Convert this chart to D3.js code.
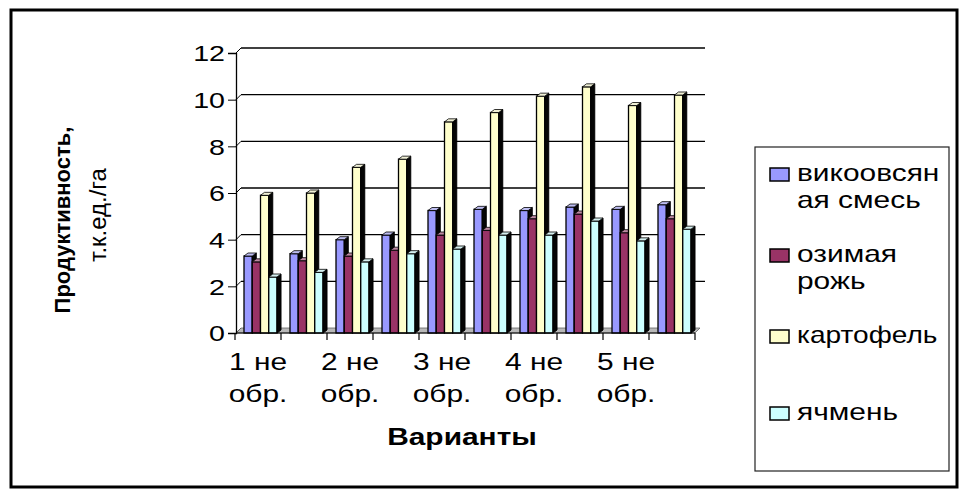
<!doctype html>
<html>
  <head>
    <meta charset="utf-8">
    <title>Продуктивность</title>
    <script src="https://d3js.org/d3.v7.min.js"></script>
    <style type="text/css">
      body { margin: 0; background-color: #ffffff; }
      text { font-family: "Liberation Sans", Arial, sans-serif; fill: #000; }
    </style>
  </head>
  <body>
    <script>
      // data
      var categories = ["1 не обр.", "1 обр.", "2 не обр.", "2 обр.", "3 не обр.",
                        "3 обр.", "4 не обр.", "4 обр.", "5 не обр.", "5 обр."];
      var seriesNames = ["викоовсяная смесь", "озимая рожь", "картофель", "ячмень"];
      var vikoovs = [3.3, 3.4, 4.0, 4.2, 5.25, 5.3, 5.25, 5.4, 5.3, 5.5];
      var rozh    = [3.05, 3.1, 3.3, 3.55, 4.2, 4.4, 4.9, 5.1, 4.3, 4.9];
      var kartof  = [5.9, 6.0, 7.1, 7.45, 9.05, 9.45, 10.15, 10.55, 9.75, 10.2];
      var yachmen = [2.4, 2.6, 3.05, 3.4, 3.6, 4.2, 4.2, 4.8, 3.95, 4.45];
      var yTicks = [0, 2, 4, 6, 8, 10, 12];
      var legendLines = [["викоовсян", "ая смесь"], ["озимая", "рожь"], ["картофель"], ["ячмень"]];

      var values = [vikoovs, rozh, kartof, yachmen];
      var colors = ["#9999ff", "#993366", "#ffffcc", "#ccffff"];

      var w = 974, h = 499;
      var SX = 1.3;   // text in the picture is drawn wide
      var dx = 4, dy = 3;       // bar depth
      var wdx = 5, wdy = 5;     // wall depth

      var svg = d3.select("body").append("svg")
        .attr("width", w)
        .attr("height", h);

      // outer frame
      svg.append("rect")
        .attr("x", 11).attr("y", 10)
        .attr("width", 946).attr("height", 477)
        .attr("fill", "none").attr("stroke", "#000").attr("stroke-width", 3);

      var x = d3.scaleBand().domain(categories).range([235, 695]);
      var xs = d3.scaleBand().domain(seriesNames).range([9, 42]);
      var y = d3.scaleLinear().domain([0, 12]).range([333, 53]);

      // helper for the stretched text
      function wideText(parent, tx, ty, str, anchor, size, weight) {
        var g = parent.append("g")
          .attr("transform", "translate(" + tx + "," + ty + ") scale(" + SX + ",1)");
        return g.append("text")
          .attr("text-anchor", anchor || "start")
          .style("font-size", (size || 22) + "px")
          .style("font-weight", weight || "normal")
          .text(str);
      }

      // gridlines on the back wall
      var grid = svg.append("g");
      grid.selectAll("line.g")
        .data(yTicks.filter(function(d) { return d > 0; }))
        .enter().append("line")
        .attr("x1", 236 + wdx).attr("x2", 705)
        .attr("y1", function(d) { return y(d) - wdy; })
        .attr("y2", function(d) { return y(d) - wdy; })
        .attr("stroke", "#000").attr("stroke-width", 1.3);
      grid.selectAll("line.d")
        .data(yTicks)
        .enter().append("line")
        .attr("x1", 236).attr("x2", 236 + wdx)
        .attr("y1", function(d) { return y(d); })
        .attr("y2", function(d) { return y(d) - wdy; })
        .attr("stroke", "#000").attr("stroke-width", 1);

      // floor
      svg.append("path")
        .attr("d", "M236," + y(0) + "L695," + y(0) + "L" + (695 + wdx) + "," + (y(0) - wdy) +
                   "L" + (236 + wdx) + "," + (y(0) - wdy) + "Z")
        .attr("fill", "#b8b8b8").attr("stroke", "#666").attr("stroke-width", 0.8);

      // y axis
      var yAxis = svg.append("g")
        .attr("transform", "translate(236,0)")
        .call(d3.axisLeft(y).tickValues(yTicks).tickSize(8).tickPadding(8));
      yAxis.select(".domain").attr("stroke", "#000").attr("stroke-width", 1.3);
      yAxis.selectAll("text")
        .style("font-size", "22px")
        .style("font-family", "'Liberation Sans', Arial, sans-serif")
        .attr("dy", "0.36em")
        .attr("transform", "scale(" + SX + ",1)")
        .attr("x", -11 / SX);

      // bars
      var bars = svg.append("g");
      categories.forEach(function(c, ci) {
        values.forEach(function(vals, si) {
          var x0 = x(c) + xs(seriesNames[si]);
          var bw = xs.bandwidth();
          var yt = y(vals[ci]), yb = y(0);
          var g = bars.append("g");
          g.append("rect")
            .attr("x", x0).attr("y", yt)
            .attr("width", bw).attr("height", yb - yt)
            .attr("fill", colors[si]).attr("stroke", "#000").attr("stroke-width", 1.3);
          g.append("path")
            .attr("d", "M" + (x0 + bw) + "," + yt + "L" + (x0 + bw + dx) + "," + (yt - dy) +
                       "L" + (x0 + bw + dx) + "," + (yb - dy) + "L" + (x0 + bw) + "," + yb + "Z")
            .attr("fill", "#050505").attr("stroke", "#000").attr("stroke-width", 1);
          g.append("path")
            .attr("d", "M" + x0 + "," + yt + "L" + (x0 + dx) + "," + (yt - dy) +
                       "L" + (x0 + bw + dx) + "," + (yt - dy) + "L" + (x0 + bw) + "," + yt + "Z")
            .attr("fill", d3.interpolateRgb(colors[si], "#e0e0e0")(0.5))
            .attr("stroke", "#000").attr("stroke-width", 0.8);
        });
      });

      // x axis
      svg.append("line")
        .attr("x1", 236).attr("x2", 695)
        .attr("y1", y(0)).attr("y2", y(0))
        .attr("stroke", "#000").attr("stroke-width", 1.2);
      var bounds = categories.map(function(c) { return x(c); }).concat([x.range()[1]]);
      svg.append("g").selectAll("line")
        .data(bounds)
        .enter().append("line")
        .attr("x1", function(d) { return d; }).attr("x2", function(d) { return d; })
        .attr("y1", y(0)).attr("y2", y(0) + 7)
        .attr("stroke", "#000").attr("stroke-width", 1.2);

      var xLab = svg.append("g");
      categories.forEach(function(c, i) {
        if (i % 2 !== 0) return;
        var cx = x(c) + x.bandwidth() / 2;
        var parts = c.split(" ");
        var l1 = parts.slice(0, parts.length - 1).join(" ");
        var l2 = parts[parts.length - 1];
        wideText(xLab, cx, 370, l1, "middle", 23);
        wideText(xLab, cx, 402, l2, "middle", 23);
      });

      // axis titles
      wideText(svg, 462, 445, "Варианты", "middle", 23, "bold");
      var yt1 = svg.append("g").attr("transform", "translate(70,220) rotate(-90)");
      yt1.append("text").attr("text-anchor", "middle")
        .style("font-size", "22px").style("font-weight", "bold").text("Продуктивность,");
      var yt2 = svg.append("g").attr("transform", "translate(106,215) rotate(-90)");
      yt2.append("text").attr("text-anchor", "middle").style("font-size", "24px").text("т.к.ед./га");

      // legend
      var legend = svg.append("g");
      legend.append("rect")
        .attr("x", 755).attr("y", 147)
        .attr("width", 194).attr("height", 324)
        .attr("fill", "none").attr("stroke", "#222").attr("stroke-width", 1.2);
      var legendY = [181, 262, 343, 420];
      legendLines.forEach(function(lines, i) {
        legend.append("rect")
          .attr("x", 770).attr("y", legendY[i] - 13)
          .attr("width", 19).attr("height", 13)
          .attr("fill", colors[i]).attr("stroke", "#000").attr("stroke-width", 1.5);
        lines.forEach(function(t, j) {
          var tx = wideText(legend, 797, legendY[i] + j * 27, t, "start", 23);
          if (t === "картофель") tx.attr("textLength", 108).attr("lengthAdjust", "spacingAndGlyphs");
        });
      });
    </script>
  </body>
</html>
